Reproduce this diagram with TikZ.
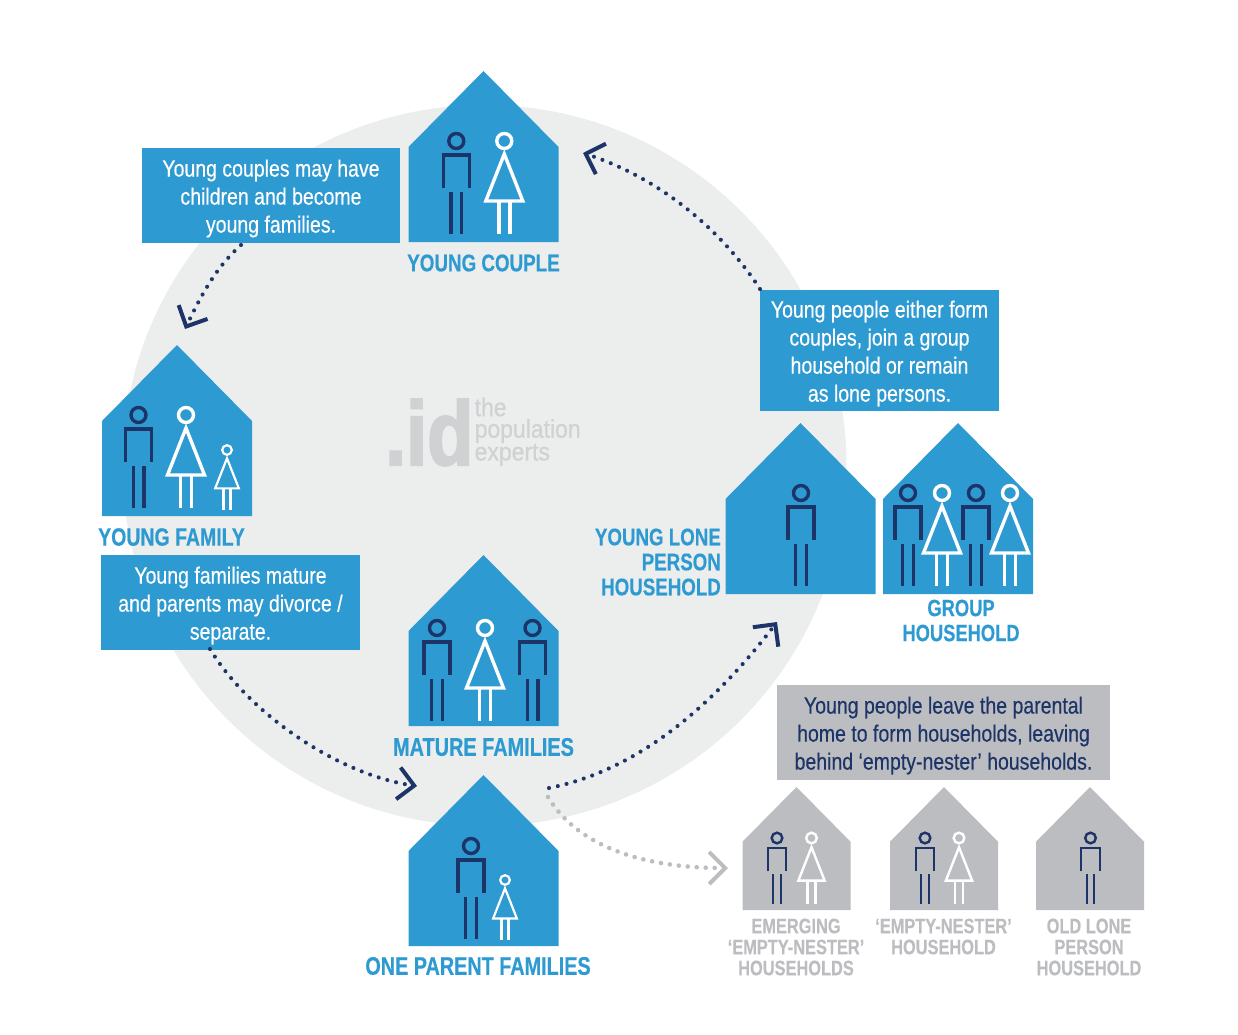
\documentclass[tikz,border=0pt]{standalone}
\usepackage{fontspec}
\setmainfont[FakeStretch=0.83,FakeBold=0.35,BoldFeatures={FakeStretch=0.78,FakeBold=0.35}]{Liberation Sans}
\newfontfamily\logofont[FakeStretch=0.83,FakeBold=2.2]{Liberation Sans Bold}
\newfontfamily\logotextfont[FakeStretch=0.9,FakeBold=0.5]{Liberation Sans}
\usetikzlibrary{arrows.meta}
\definecolor{idblue}{HTML}{2E9AD2}
\definecolor{idgrey}{HTML}{BCBDC0}
\definecolor{idnavy}{HTML}{1D3468}
\definecolor{idbg}{HTML}{ECEDED}
\definecolor{idlogo}{HTML}{D0D1D2}
\newcommand\fs[2]{\fontsize{#1}{#2}\selectfont}
\tikzset{
  bluebox/.style={fill=idblue,inner sep=0pt},
  greybox/.style={fill=idgrey,inner sep=0pt},
  bluetext/.style={text=white,inner sep=0pt,align=center,yshift=-3pt,font=\fs{23.5}{28}},
  greytext/.style={text=idnavy,inner sep=0pt,align=center,yshift=-3pt,font=\fs{23.5}{28}},
  biglabel/.style={text=idblue,inner sep=0pt,align=center,font=\fs{25}{25}\bfseries},
  smalllabel/.style={text=idgrey,inner sep=0pt,align=center,font=\fs{21}{21}\bfseries},
  conn/.style={idnavy,line width=4.1pt,line cap=round,dash pattern=on 0pt off 9pt,
     -{Straight Barb[length=16pt,width=32pt,line width=4pt,line cap=butt]}},
  gconn/.style={conn,idgrey,line width=4.6pt,dash pattern=on 0pt off 9pt},
}
% house: name, left x, apex y, size factor, colour
\newcommand\house[5]{%
  \fill[#5] (#2,#3+76*#4) -- (#2+75*#4,#3) -- (#2+150*#4,#3+76*#4) -- (#2+150*#4,#3+171*#4) -- (#2,#3+171*#4) -- cycle;
  \node[inner sep=0pt,minimum width=150*#4,minimum height=171*#4] (#1) at (#2+75*#4,#3+85.5*#4) {};
}
% figures: head centre x, y, scale, colour
\newcommand\manfig[4]{%
  \begin{scope}[shift={(#1,#2)},scale=#3,draw=#4,line width=#3*3.4pt]
    \draw (0,0) circle (7.5);
    \draw (-13,47) -- (-13,14) -- (13,14) -- (13,47);
    \draw (-5.3,51) -- (-5.3,93) (5.3,51) -- (5.3,93);
  \end{scope}}
\newcommand\womanfig[4]{%
  \begin{scope}[shift={(#1,#2)},scale=#3,draw=#4,line width=#3*3.4pt]
    \draw (0,0) circle (7.5);
    \draw[line join=miter] (0,13) -- (18.5,60) -- (-18.5,60) -- cycle;
    \draw (-5.5,60) -- (-5.5,93) (5.5,60) -- (5.5,93);
  \end{scope}}
\begin{document}
\begin{tikzpicture}[x=1pt,y=-1pt]
\useasboundingbox (0,0) rectangle (1238,1034);
\fill[idbg] (484.5,465.5) ellipse (362 and 360.5);
% logo
\node[text=idlogo,inner sep=0pt,anchor=base west,font=\logofont\fs{91}{91}] (logo) at (385,465) {.id};
\node[text=idlogo,inner sep=0pt,anchor=north west,align=left,font=\logotextfont\fs{25.5}{21.5}] (logotext) at (474.5,397.5) {the\\population\\experts};
% houses
\house{hyc}{408.5}{71}{1}{idblue}
\manfig{456.3}{141}{1}{idnavy}
\womanfig{504.3}{141}{1}{white}
\house{hyf}{102}{345}{1}{idblue}
\manfig{138.5}{415}{1}{idnavy}
\womanfig{186}{415}{1}{white}
\womanfig{227}{450}{.64}{white}
\house{hmf}{408.5}{555}{1}{idblue}
\manfig{437}{628}{1}{idnavy}
\womanfig{485}{628}{1}{white}
\manfig{532.5}{628}{1}{idnavy}
\house{hop}{408.5}{775}{1}{idblue}
\manfig{471}{846}{1}{idnavy}
\womanfig{505}{880}{.64}{white}
\house{hlp}{725.5}{423}{1}{idblue}
\manfig{801}{493}{1}{idnavy}
\house{hgh}{883}{423}{1}{idblue}
\manfig{908}{493}{1}{idnavy}
\womanfig{942}{493}{1}{white}
\manfig{976}{493}{1}{idnavy}
\womanfig{1010}{493}{1}{white}
\house{hem}{742.5}{787}{.72}{idgrey}
\manfig{777}{838}{.71}{idnavy}
\womanfig{811.5}{838}{.71}{white}
\house{hen}{890}{787}{.72}{idgrey}
\manfig{925}{838}{.71}{idnavy}
\womanfig{959}{838}{.71}{white}
\house{hol}{1036}{787}{.72}{idgrey}
\manfig{1090.5}{838}{.71}{idnavy}
% boxes
\node[bluebox,minimum width=258,minimum height=95] (boxa) at (271,195.5) {};
\node[bluebox,minimum width=239,minimum height=121] (boxb) at (879.5,350.5) {};
\node[bluebox,minimum width=259,minimum height=95] (boxc) at (230.5,602.5) {};
\node[greybox,minimum width=333,minimum height=95] (boxd) at (943.5,732.5) {};
\node[bluetext] (ta) at (boxa) {Young couples may have\\children and become\\young families.};
\node[bluetext] (tb) at (boxb) {Young people either form\\couples, join a group\\household or remain\\as lone persons.};
\node[bluetext] (tc) at (boxc) {Young families mature\\and parents may divorce /\\separate.};
\node[greytext] (td) at (boxd) {Young people leave the parental\\home to form households, leaving\\behind ‘empty-nester’ households.};
% labels
\node[biglabel,font=\fs{24.1}{25}\bfseries] (lyc) at (483.5,263) {YOUNG COUPLE};
\node[biglabel] (lyf) at (171.5,537) {YOUNG FAMILY};
\node[biglabel,font=\fs{25.5}{25}\bfseries] (lmf) at (483.5,747) {MATURE FAMILIES};
\node[biglabel,font=\fs{25.4}{25}\bfseries] (lop) at (478,966) {ONE PARENT FAMILIES};
\node[biglabel,font=\fs{24}{25}\bfseries,align=right,anchor=east] (llp) at (721,562) {YOUNG LONE\\PERSON\\HOUSEHOLD};
\node[biglabel,font=\fs{23.5}{25}\bfseries] (lgh) at (961,620.5) {GROUP\\HOUSEHOLD};
\node[smalllabel] (lem) at (796,947) {EMERGING\\‘EMPTY-NESTER’\\HOUSEHOLDS};
\node[smalllabel] (len) at (943.5,936.5) {‘EMPTY-NESTER’\\HOUSEHOLD};
\node[smalllabel] (lol) at (1089,947) {OLD LONE\\PERSON\\HOUSEHOLD};
% connector ends
\coordinate (a1) at (241,245);
\coordinate (a2) at (185,329);
\coordinate (c1) at (210,649);
\coordinate (c2) at (417,786);
\coordinate (o1) at (549,788);
\coordinate (o2) at (777,622);
\coordinate (b1) at (760,289);
\coordinate (b2) at (583,153);
\coordinate (g1) at (548,797);
\coordinate (g2) at (728,868);
\draw[conn] (a1) .. controls (220,264) and (206,285) .. (a2);
\draw[conn] (c1) .. controls (250,715) and (340,775) .. (c2);
\draw[conn] (o1) .. controls (640,770) and (715,703) .. (o2);
\draw[conn] (b1) .. controls (725,235) and (665,180) .. (b2);
\draw[gconn] (g1) .. controls (580,850) and (650,868) .. (g2);
\end{tikzpicture}
\end{document}
